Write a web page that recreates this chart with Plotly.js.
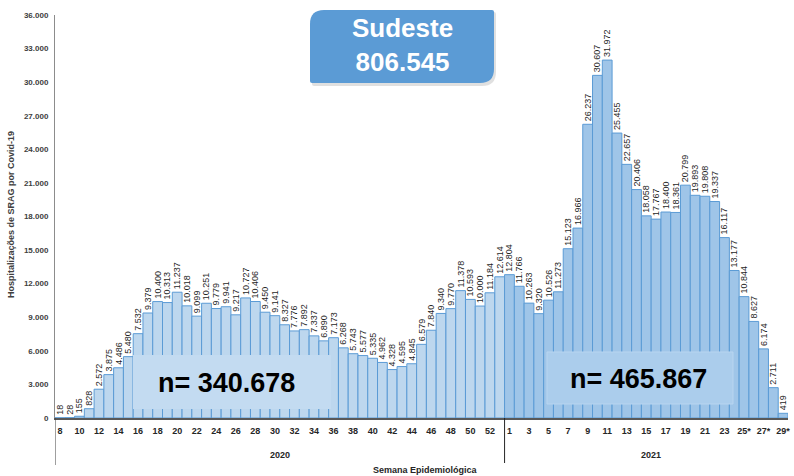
<!DOCTYPE html>
<html><head><meta charset="utf-8">
<script src="https://cdn.plot.ly/plotly-3.0.1.min.js"></script>
<style>html,body{margin:0;padding:0;background:#fff}#chart{width:794px;height:476px}</style>
</head><body><div id="chart"></div>
<script>
// ---- data ----
const weeks2020 = ['8','9','10','11','12','13','14','15','16','17','18','19','20','21','22','23','24','25','26','27','28','29','30','31','32','33','34','35','36','37','38','39','40','41','42','43','44','45','46','47','48','49','50','51','52','53'];
const values2020 = [18,28,155,828,2572,3875,4486,5480,7532,9379,10400,10313,11237,10018,9099,10251,9779,9941,9217,10727,10406,9450,9141,8327,7776,7892,7337,6890,7173,6268,5743,5577,5335,4962,4328,4595,4845,6579,7840,9340,9770,11378,10593,10000,11184,12614];
const weeks2021 = ['1','2','3','4','5','6','7','8','9','10','11','12','13','14','15','16','17','18','19','20','21','22','23','24','25*','26*','27*','28*','29*'];
const values2021 = [12804,11766,10263,9320,10526,11273,15123,16966,26237,30607,31972,25455,22657,20406,18058,17767,18400,18361,20799,19893,19808,19337,16117,13177,10844,8627,6174,2711,419];
const yearLabels = ['2020','2021'];
const regionName = 'Sudeste';
const regionTotal = '806.545';
const total2020Label = 'n= 340.678';
const total2021Label = 'n= 465.867';
const xTitle = 'Semana Epidemiológica';
const yTitle = 'Hospitalizações de SRAG por Covid-19';

// ---- geometry helpers ----
const W = 794, H = 476, L = 55, R = 6, T = 15, B = 58;
const pw = W - L - R, ph = H - T - B;
const px = x => (x - L) / pw;
const py = y => (H - B - y) / ph;

function roundDiag(x0, y0, x1, y1, r, r2) {
  const P = (x, y) => px(x).toFixed(5) + ',' + py(y).toFixed(5);
  return 'M' + P(x0 + r, y0) + ' L' + P(x1 - r2, y0) + ' Q' + P(x1, y0) + ' ' + P(x1, y0 + r2) +
    ' L' + P(x1, y1 - r) + ' Q' + P(x1, y1) + ' ' + P(x1 - r, y1) +
    ' L' + P(x0 + r2, y1) + ' Q' + P(x0, y1) + ' ' + P(x0, y1 - r2) +
    ' L' + P(x0, y0 + r) + ' Q' + P(x0, y0) + ' ' + P(x0 + r, y0) + ' Z';
}

const n20 = weeks2020.length;
const x2020 = weeks2020.map((_, i) => i);
const x2021 = weeks2021.map((_, i) => i + n20);
const allWeeks = weeks2020.concat(weeks2021);
const tickvals = [], ticktext = [];
allWeeks.forEach((w, i) => { if (i % 2 === 0) { tickvals.push(i); ticktext.push(w); } });
const nAll = allWeeks.length;

const labelFont = {family: 'Liberation Sans, Arial, sans-serif', size: 9, color: '#1f1f1f'};

const traces = [
  {type: 'bar', x: x2020, y: values2020, width: 1,
   marker: {color: '#bdd7ee', line: {color: '#5b9bd5', width: 1}},
   text: values2020, texttemplate: '%{y:,}', textposition: 'outside', textangle: -90,
   textfont: labelFont, constraintext: 'none', cliponaxis: false, hoverinfo: 'skip'},
  {type: 'bar', x: x2021, y: values2021, width: 1,
   marker: {color: '#9fc5e8', line: {color: '#5b9bd5', width: 1}},
   text: values2021, texttemplate: '%{y:,}', textposition: 'outside', textangle: -90,
   textfont: labelFont, constraintext: 'none', cliponaxis: false, hoverinfo: 'skip'}
];

const layout = {
  width: W, height: H,
  margin: {l: L, r: R, t: T, b: B},
  paper_bgcolor: '#ffffff', plot_bgcolor: '#ffffff',
  separators: ',.',
  showlegend: false,
  barmode: 'overlay', bargap: 0,
  xaxis: {
    range: [-0.5, nAll - 0.5], tickmode: 'array', tickvals: tickvals, ticktext: ticktext,
    showline: true, linecolor: '#595959', linewidth: 1.5, ticks: '', showgrid: false, zeroline: false,
    tickangle: 0, ticklabelstandoff: 4, ticklabeloverflow: 'allow',
    tickfont: {family: 'Liberation Sans, Arial, sans-serif', size: 9, color: '#262626', weight: 'bold'}
  },
  yaxis: {
    range: [0, 36000], dtick: 3000, tickformat: ',', showline: true, linecolor: '#8c8c8c', linewidth: 1,
    ticks: '', showgrid: false, zeroline: false, ticklabelstandoff: 4,
    tickfont: {family: 'Liberation Sans Narrow, Liberation Sans, Arial, sans-serif', size: 8, color: '#404040', weight: 'bold'}
  },
  shapes: [
    {type: 'line', xref: 'x', yref: 'paper', x0: -0.5, x1: -0.5, y0: 0, y1: py(465), line: {color: '#404040', width: 1}},
    {type: 'line', xref: 'x', yref: 'paper', x0: n20 - 0.5, x1: n20 - 0.5, y0: 0, y1: py(463), line: {color: '#262626', width: 1}},
    {type: 'rect', xref: 'paper', yref: 'paper', x0: px(133), x1: px(331), y0: py(409), y1: py(355),
     fillcolor: '#c3dbf1', line: {width: 0}, layer: 'above'},
    {type: 'rect', xref: 'paper', yref: 'paper', x0: px(547), x1: px(733), y0: py(404), y1: py(352),
     fillcolor: '#abcdec', line: {color: '#b8d5f0', width: 1}, layer: 'above'},
    {type: 'path', xref: 'paper', yref: 'paper', path: roundDiag(312, 12, 496, 86, 14, 2),
     fillcolor: 'rgba(0,0,0,0.12)', line: {width: 0}, layer: 'above'},
    {type: 'path', xref: 'paper', yref: 'paper', path: roundDiag(310, 10, 494, 83, 14, 2),
     fillcolor: '#5b9bd5', line: {width: 0}, layer: 'above'}
  ],
  annotations: [
    {xref: 'paper', yref: 'paper', x: px(402), y: py(45), text: regionName + '<br>' + regionTotal,
     showarrow: false, xanchor: 'center', yanchor: 'middle',
     font: {family: 'Liberation Sans, Arial, sans-serif', size: 26, color: '#ffffff', weight: 'bold'}},
    {xref: 'paper', yref: 'paper', x: px(226), y: py(383), text: total2020Label, showarrow: false,
     xanchor: 'center', yanchor: 'middle',
     font: {family: 'Liberation Sans, Arial, sans-serif', size: 27, color: '#000000', weight: 'bold'}},
    {xref: 'paper', yref: 'paper', x: px(638), y: py(379), text: total2021Label, showarrow: false,
     xanchor: 'center', yanchor: 'middle',
     font: {family: 'Liberation Sans, Arial, sans-serif', size: 27, color: '#000000', weight: 'bold'}},
    {xref: 'x', yref: 'paper', x: (n20 - 1) / 2, y: py(455), text: yearLabels[0], showarrow: false,
     xanchor: 'center', yanchor: 'middle',
     font: {family: 'Liberation Sans, Arial, sans-serif', size: 9, color: '#262626', weight: 'bold'}},
    {xref: 'paper', yref: 'paper', x: px(651), y: py(455), text: yearLabels[1], showarrow: false,
     xanchor: 'center', yanchor: 'middle',
     font: {family: 'Liberation Sans, Arial, sans-serif', size: 9, color: '#262626', weight: 'bold'}},
    {xref: 'paper', yref: 'paper', x: px(425), y: py(470), text: xTitle, showarrow: false,
     xanchor: 'center', yanchor: 'middle',
     font: {family: 'Liberation Sans, Arial, sans-serif', size: 9, color: '#262626', weight: 'bold'}},
    {xref: 'paper', yref: 'paper', x: px(11), y: py(215), text: yTitle, showarrow: false, textangle: -90,
     xanchor: 'center', yanchor: 'middle',
     font: {family: 'Liberation Sans, Arial, sans-serif', size: 9, color: '#404040', weight: 'bold'}}
  ]
};

Plotly.newPlot('chart', traces, layout, {staticPlot: true, displayModeBar: false});
</script>
</body></html>
